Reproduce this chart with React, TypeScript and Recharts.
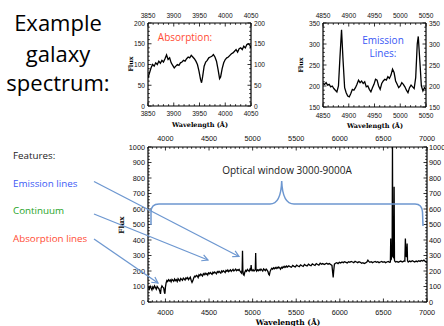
import React from "react";
import { LineChart, Line, XAxis, YAxis } from "recharts";

// ---- data ----
const absWave = [3850, 3853, 3856, 3859, 3862, 3865, 3868, 3871, 3874, 3877, 3880, 3883, 3886, 3889, 3892, 3895, 3898, 3901, 3904, 3907, 3910, 3913, 3916, 3919, 3922, 3925, 3928, 3931, 3934, 3937, 3940, 3943, 3946, 3949, 3952, 3954, 3956, 3959, 3962, 3965, 3968, 3971, 3974, 3977, 3980, 3983, 3986, 3989, 3991, 3994, 3997, 4000, 4003, 4006, 4009, 4012, 4015, 4018, 4021, 4024, 4027, 4030, 4033, 4036, 4039, 4042, 4045, 4048, 4050];
const absFlux = [68, 80, 92, 100, 96, 104, 100, 108, 103, 110, 106, 114, 123, 112, 116, 104, 98, 92, 96, 100, 98, 104, 106, 110, 108, 114, 118, 116, 122, 118, 114, 108, 100, 84, 64, 56, 70, 96, 106, 110, 116, 118, 120, 124, 118, 108, 88, 66, 70, 90, 104, 112, 116, 118, 122, 126, 128, 132, 136, 130, 138, 140, 136, 144, 140, 148, 150, 146, 140];

const emiWave = [4850, 4853, 4856, 4859, 4862, 4865, 4868, 4871, 4874, 4877, 4880, 4883, 4886, 4889, 4892, 4895, 4898, 4901, 4904, 4907, 4910, 4913, 4916, 4919, 4922, 4925, 4928, 4931, 4934, 4937, 4940, 4943, 4946, 4949, 4952, 4955, 4958, 4961, 4964, 4967, 4970, 4973, 4976, 4979, 4982, 4985, 4988, 4991, 4994, 4997, 5000, 5003, 5006, 5009, 5012, 5015, 5018, 5021, 5024, 5027, 5030, 5033, 5035, 5038, 5041, 5044, 5047, 5050];
const emiFlux = [206, 204, 208, 202, 204, 198, 200, 194, 190, 186, 200, 270, 334, 260, 196, 184, 176, 174, 182, 192, 190, 196, 204, 214, 208, 212, 206, 210, 198, 200, 192, 186, 196, 204, 216, 214, 200, 192, 206, 212, 216, 214, 222, 218, 226, 240, 232, 212, 204, 196, 200, 208, 204, 198, 190, 184, 196, 202, 198, 194, 220, 300, 318, 260, 200, 188, 196, 192];

const mainWave = [3805, 3815, 3825, 3835, 3845, 3855, 3865, 3875, 3885, 3895, 3905, 3915, 3925, 3935, 3943, 3950, 3960, 3970, 3980, 3988, 3994, 4000, 4008, 4016, 4025, 4035, 4045, 4055, 4065, 4075, 4085, 4095, 4105, 4115, 4125, 4135, 4145, 4155, 4165, 4175, 4185, 4195, 4205, 4215, 4225, 4235, 4245, 4255, 4265, 4275, 4285, 4295, 4305, 4315, 4325, 4335, 4345, 4355, 4365, 4375, 4385, 4395, 4405, 4415, 4425, 4435, 4445, 4455, 4465, 4475, 4485, 4495, 4505, 4515, 4525, 4535, 4545, 4555, 4565, 4575, 4585, 4595, 4605, 4615, 4625, 4635, 4645, 4655, 4665, 4675, 4685, 4695, 4705, 4715, 4725, 4735, 4745, 4755, 4765, 4775, 4785, 4795, 4805, 4815, 4825, 4835, 4845, 4855, 4865, 4874, 4880, 4884, 4888, 4894, 4902, 4910, 4920, 4930, 4940, 4950, 4960, 4970, 4978, 4983, 4988, 4996, 5006, 5016, 5026, 5031, 5035, 5039, 5046, 5056, 5066, 5076, 5086, 5096, 5106, 5116, 5126, 5136, 5146, 5156, 5166, 5176, 5184, 5192, 5200, 5210, 5220, 5230, 5240, 5250, 5260, 5270, 5280, 5290, 5300, 5310, 5320, 5330, 5340, 5350, 5360, 5370, 5380, 5390, 5400, 5415, 5430, 5445, 5460, 5475, 5490, 5505, 5520, 5535, 5550, 5565, 5580, 5595, 5610, 5625, 5640, 5655, 5670, 5685, 5700, 5715, 5730, 5745, 5760, 5775, 5790, 5805, 5820, 5835, 5850, 5865, 5880, 5895, 5910, 5918, 5924, 5930, 5938, 5950, 5965, 5980, 5995, 6010, 6025, 6040, 6055, 6070, 6085, 6100, 6115, 6130, 6145, 6160, 6175, 6190, 6205, 6220, 6235, 6250, 6265, 6280, 6295, 6310, 6322, 6332, 6345, 6360, 6375, 6390, 6405, 6420, 6435, 6450, 6465, 6480, 6495, 6510, 6525, 6540, 6555, 6570, 6580, 6584, 6588, 6594, 6600, 6604, 6608, 6614, 6620, 6623, 6627, 6632, 6640, 6655, 6670, 6685, 6700, 6715, 6730, 6740, 6746, 6752, 6758, 6766, 6772, 6777, 6785, 6800, 6815, 6830, 6845, 6860, 6875, 6890, 6905, 6920, 6935, 6950, 6965, 6980, 6995, 7000];
const mainFlux = [96, 84, 102, 90, 78, 98, 88, 104, 94, 82, 100, 92, 86, 70, 52, 88, 104, 96, 90, 62, 54, 96, 124, 138, 132, 144, 136, 142, 130, 146, 140, 134, 148, 138, 144, 132, 150, 142, 136, 152, 146, 140, 154, 148, 142, 156, 150, 158, 144, 152, 160, 140, 126, 138, 156, 166, 162, 172, 168, 158, 176, 170, 180, 174, 168, 182, 176, 186, 178, 184, 174, 188, 182, 190, 184, 178, 192, 186, 194, 188, 182, 196, 190, 198, 192, 186, 200, 194, 202, 196, 190, 204, 198, 206, 196, 202, 208, 198, 204, 210, 200, 206, 212, 202, 208, 204, 210, 200, 192, 186, 210, 330, 205, 178, 172, 192, 204, 198, 210, 204, 198, 212, 206, 238, 210, 202, 208, 200, 206, 214, 316, 212, 200, 208, 202, 210, 204, 212, 206, 200, 214, 208, 202, 212, 206, 196, 180, 174, 196, 210, 218, 212, 220, 214, 222, 216, 224, 218, 226, 220, 212, 224, 218, 228, 222, 230, 224, 232, 226, 234, 228, 224, 236, 230, 226, 238, 232, 228, 240, 234, 230, 242, 236, 232, 244, 238, 234, 246, 240, 236, 248, 242, 238, 250, 244, 248, 242, 246, 250, 244, 248, 242, 236, 190, 158, 200, 244, 250, 254, 248, 256, 252, 258, 254, 260, 256, 252, 260, 256, 262, 258, 254, 262, 258, 254, 260, 256, 250, 254, 248, 252, 258, 270, 262, 256, 260, 254, 258, 262, 256, 260, 254, 258, 262, 256, 260, 254, 258, 262, 256, 258, 410, 270, 290, 300, 1000, 300, 290, 300, 743, 270, 262, 258, 262, 256, 260, 264, 258, 262, 266, 264, 410, 300, 290, 378, 266, 258, 264, 260, 266, 262, 258, 264, 260, 266, 262, 268, 264, 270, 262, 256, 258];

const absXLabels = [3850, 3900, 3950, 4000, 4050];
const absYLabels = [0, 50, 100, 150, 200];
const emiXLabels = [4850, 4900, 4950, 5000, 5050];
const emiYLabels = [150, 200, 250, 300, 350];
const mainXLabels = [4000, 4500, 5000, 5500, 6000, 6500, 7000];
const mainYLabels = [0, 100, 200, 300, 400, 500, 600, 700, 800, 900, 1000];

const absData = absWave.map((w, i) => ({ w, f: absFlux[i] }));
const emiData = emiWave.map((w, i) => ({ w, f: emiFlux[i] }));
const mainData = mainWave.map((w, i) => ({ w, f: mainFlux[i] }));

const range = (a: number, b: number, step: number) => {
  const out: number[] = [];
  for (let v = a; v <= b; v += step) out.push(v);
  return out;
};

const BLUE_NOTE = "#6d97d0";
const TICK_FONT = "'Liberation Sans', Arial, sans-serif";
const LABEL_FONT = "'DejaVu Serif', serif";
const SLIDE_FONT = "'Open Sans', sans-serif";

type Side = "top" | "bottom" | "left" | "right";

// inward tick marks, labels only on the major values
const makeTick = (side: Side, majors: number[], fs: number, off: number, offR: number, majLen: number, minLen: number) =>
  (props: any) => {
    const { x, y, payload } = props;
    const v = payload.value;
    const major = majors.includes(v);
    const len = major ? majLen : minLen;
    let x2 = x, y2 = y, tx = x, ty = y;
    let anchor: "middle" | "end" | "start" = "middle";
    if (side === "bottom") { y2 = y - len; ty = y + off; }
    if (side === "top") { y2 = y + len; ty = y - off; }
    if (side === "left") { x2 = x + len; tx = x - off; anchor = "end"; }
    if (side === "right") { x2 = x - len; tx = x + offR; anchor = "start"; }
    return (
      <g>
        <line x1={x} y1={y} x2={x2} y2={y2} stroke="#000" strokeWidth={0.8} />
        {major && (
          <text x={tx} y={ty} textAnchor={anchor} dominantBaseline="central"
            fontSize={fs} fontFamily={TICK_FONT} fill="#111">{v}</text>
        )}
      </g>
    );
  };

interface PanelProps {
  data: { w: number; f: number }[];
  width: number;
  height: number;
  plot: { left: number; right: number; top: number; bottom: number };
  xDomain: [number, number];
  yDomain: [number, number];
  xTicks: number[];
  yTicks: number[];
  xLabels: number[];
  yLabels: number[];
  fs: number;
  offTop: number;
  offBottom: number;
  offRight: number;
  lineWidth: number;
}

function SpectrumPanel(p: PanelProps) {
  const axisLine = { stroke: "#000", strokeWidth: 1.2 };
  return (
    <LineChart width={p.width} height={p.height} data={p.data}
      margin={{ top: 0, right: 0, bottom: 0, left: 0 }}>
      <XAxis xAxisId="b" orientation="bottom" dataKey="w" type="number" domain={p.xDomain}
        allowDataOverflow ticks={p.xTicks} interval={0} height={p.plot.bottom}
        tickSize={0} tickMargin={0} tickLine={false} axisLine={axisLine}
        tick={makeTick("bottom", p.xLabels, p.fs, p.offBottom, 0, 3.5, 1.8)} />
      <XAxis xAxisId="t" orientation="top" dataKey="w" type="number" domain={p.xDomain}
        allowDataOverflow ticks={p.xTicks} interval={0} height={p.plot.top}
        tickSize={0} tickMargin={0} tickLine={false} axisLine={axisLine}
        tick={makeTick("top", p.xLabels, p.fs, p.offTop, 0, 3.5, 1.8)} />
      <YAxis yAxisId="l" orientation="left" type="number" domain={p.yDomain}
        allowDataOverflow ticks={p.yTicks} interval={0} width={p.plot.left}
        tickSize={0} tickMargin={0} tickLine={false} axisLine={axisLine}
        tick={makeTick("left", p.yLabels, p.fs, 3, 0, 3.5, 1.8)} />
      <YAxis yAxisId="r" orientation="right" type="number" domain={p.yDomain}
        allowDataOverflow ticks={p.yTicks} interval={0} width={p.plot.right}
        tickSize={0} tickMargin={0} tickLine={false} axisLine={axisLine}
        tick={makeTick("right", p.yLabels, p.fs, 3, p.offRight, 3.5, 1.8)} />
      <Line xAxisId="b" yAxisId="l" type="linear" dataKey="f" stroke="#000"
        strokeWidth={p.lineWidth} dot={false} isAnimationActive={false} />
    </LineChart>
  );
}

export default function App() {
  return (
    <div style={{ position: "absolute", left: 0, top: 0, width: 444, height: 326, background: "#fff", overflow: "hidden" }}>
      {/* absorption inset */}
      <div style={{ position: "absolute", left: 110, top: 0 }}>
        <SpectrumPanel data={absData} width={160} height={135}
          plot={{ left: 38, right: 19, top: 23, bottom: 29 }}
          xDomain={[3850, 4050]} yDomain={[0, 200]}
          xTicks={range(3850, 4050, 10)} yTicks={range(0, 200, 10)}
          xLabels={absXLabels} yLabels={absYLabels}
          fs={6.6} offTop={8} offBottom={7} offRight={3} lineWidth={1.3} />
      </div>
      {/* emission inset */}
      <div style={{ position: "absolute", left: 290, top: 0 }}>
        <SpectrumPanel data={emiData} width={154} height={135}
          plot={{ left: 33, right: 18, top: 23, bottom: 28 }}
          xDomain={[4850, 5050]} yDomain={[150, 350]}
          xTicks={range(4850, 5050, 10)} yTicks={range(150, 350, 10)}
          xLabels={emiXLabels} yLabels={emiYLabels}
          fs={6.6} offTop={8} offBottom={8} offRight={3} lineWidth={1.3} />
      </div>
      {/* full spectrum */}
      <div style={{ position: "absolute", left: 100, top: 130 }}>
        <SpectrumPanel data={mainData} width={344} height={196}
          plot={{ left: 48, right: 17, top: 17, bottom: 24 }}
          xDomain={[3800, 7000]} yDomain={[0, 1000]}
          xTicks={range(3800, 7000, 50)} yTicks={range(0, 1000, 20)}
          xLabels={mainXLabels} yLabels={mainYLabels}
          fs={7.3} offTop={9} offBottom={10} offRight={2} lineWidth={1.3} />
      </div>

      <svg width={444} height={326} style={{ position: "absolute", left: 0, top: 0, pointerEvents: "none" }}>
        <defs>
          <marker id="head" markerWidth={8} markerHeight={8} refX={6.5} refY={4} orient="auto" markerUnits="userSpaceOnUse">
            <path d="M0.5,0.8 L6.5,4 L0.5,7.2" fill="none" stroke={BLUE_NOTE} strokeWidth={1.2} />
          </marker>
        </defs>

        <g fontFamily={SLIDE_FONT} fontSize={22} fill="#000" textAnchor="middle">
          <text x={58} y={31}>Example</text>
          <text x={58} y={62}>galaxy</text>
          <text x={58} y={91}>spectrum:</text>
        </g>

        <text x={185} y={37} textAnchor="middle" dominantBaseline="central" fontFamily={SLIDE_FONT} fontSize={10} fill="#ff4a33">Absorption:</text>
        <text x={383} y={40} textAnchor="middle" dominantBaseline="central" fontFamily={SLIDE_FONT} fontSize={10} fill="#3a58f5">Emission</text>
        <text x={383} y={53} textAnchor="middle" dominantBaseline="central" fontFamily={SLIDE_FONT} fontSize={10} fill="#3a58f5">Lines:</text>

        <g fontFamily={LABEL_FONT} fontWeight="bold" fill="#000" textAnchor="middle" dominantBaseline="central">
          <text x={200} y={125} fontSize={6.5}>Wavelength (Å)</text>
          <text x={375} y={126} fontSize={6.5}>Wavelength (Å)</text>
          <text x={288} y={322} fontSize={7.5}>Wavelength (Å)</text>
          <text x={130} y={64} fontSize={6.3} transform="rotate(-90 130 64)">Flux</text>
          <text x={300} y={65} fontSize={6.3} transform="rotate(-90 300 65)">Flux</text>
          <text x={121} y={225} fontSize={7.2} transform="rotate(-90 121 225)">Flux</text>
        </g>

        <text x={287} y={170} textAnchor="middle" dominantBaseline="central" fontFamily={SLIDE_FONT} fontSize={10} fill="#222">Optical window 3000-9000A</text>

        <g fontFamily={SLIDE_FONT} fontSize={9.8} dominantBaseline="central">
          <text x={13} y={155} fill="#222">Features:</text>
          <text x={13} y={183} fill="#3a58f5">Emission lines</text>
          <text x={13} y={210} fill="#26a326">Continuum</text>
          <text x={13} y={238} fill="#ff4a33">Absorption lines</text>
        </g>

        <path d="M151 225 L151 212 Q151 204 159 204 L270 204 Q281 204 281.7 181 Q282.5 204 294 204 L415 204 Q422 204 422.5 212 L423 226"
          fill="none" stroke={BLUE_NOTE} strokeWidth={1.5} />

        <g stroke={BLUE_NOTE} strokeWidth={1.3} markerEnd="url(#head)">
          <line x1={94} y1={181.5} x2={239} y2={256.5} />
          <line x1={94} y1={214} x2={208} y2={260} />
          <line x1={94} y1={239} x2={158} y2={283} />
        </g>
      </svg>
    </div>
  );
}
